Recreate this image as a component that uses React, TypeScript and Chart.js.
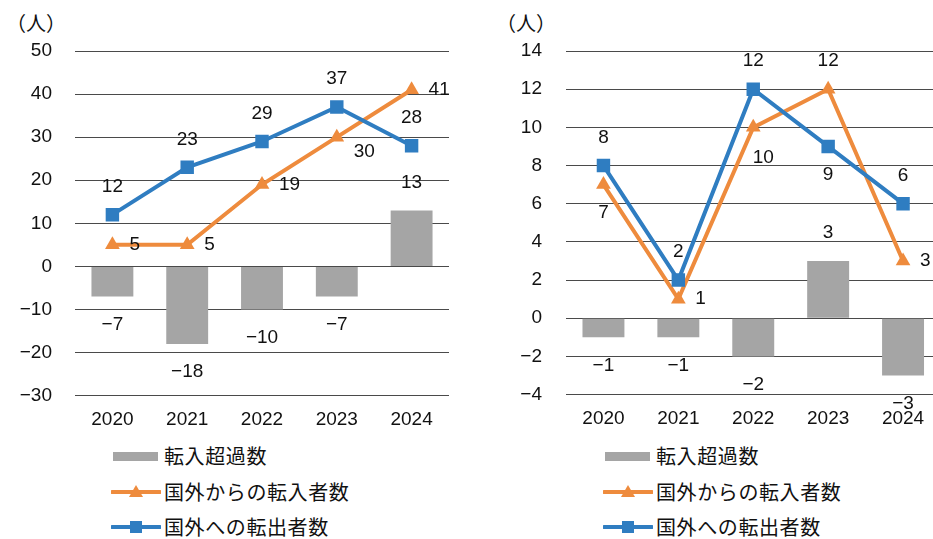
import React, { useEffect, useRef } from 'react';
import { Chart, registerables } from 'chart.js';
Chart.register(...registerables);

// ---- data ----
const years = ['2020', '2021', '2022', '2023', '2024'];
const seriesNames = ['転入超過数', '国外からの転入者数', '国外への転出者数'];

const leftNet = [-7, -18, -10, -7, 13];
const leftIn = [5, 5, 19, 30, 41];
const leftOut = [12, 23, 29, 37, 28];
const leftTicks = { min: -30, max: 50, step: 10 };

const rightNet = [-1, -1, -2, 3, -3];
const rightIn = [7, 1, 10, 12, 3];
const rightOut = [8, 2, 12, 9, 6];
const rightTicks = { min: -4, max: 14, step: 2 };

const unitLabel = '（人）';

// ---- styles ----
const GREY = '#a5a5a5';
const ORANGE = '#ee8b3d';
const BLUE = '#2f7dc1';
const GRID = '#4a4a4a';
const NUM_FONT = '"Liberation Sans", "Noto Sans CJK JP", sans-serif';
const JP_FONT = '"Noto Sans CJK JP", sans-serif';

const fmt = (v: number) => (v < 0 ? '\u2212' + Math.abs(v) : String(v));

const OFFS: Record<string, [number, number, CanvasTextAlign]> = {
  t: [0, -28, 'center'],
  b: [0, 28, 'center'],
  bR: [10, 30, 'center'],
  r: [17, 0, 'left'],
  rb: [17, 15, 'left'],
};

const labelPlugin = {
  id: 'valLabels',
  afterDatasetsDraw(chart: any) {
    const ctx = chart.ctx;
    ctx.save();
    ctx.font = `19px ${NUM_FONT}`;
    ctx.fillStyle = '#111';
    ctx.textBaseline = 'middle';
    chart.data.datasets.forEach((ds: any, i: number) => {
      const meta = chart.getDatasetMeta(i);
      meta.data.forEach((el: any, j: number) => {
        const p = OFFS[ds.labelPos[j]];
        ctx.textAlign = p[2];
        ctx.fillText(fmt(ds.data[j]), el.x + p[0], el.y + p[1]);
      });
    });
    ctx.restore();
  },
};

type PanelProps = {
  net: number[];
  inn: number[];
  out: number[];
  ticks: { min: number; max: number; step: number };
  netPos: string[];
  inPos: string[];
  outPos: string[];
  width: number;
  axisW: number;
  tickPad: number;
  padRight: number;
};

function Panel(p: PanelProps) {
  const ref = useRef<HTMLCanvasElement>(null);
  useEffect(() => {
    const chart = new Chart(ref.current!, {
      type: 'bar',
      data: {
        labels: years,
        datasets: [
          {
            type: 'line',
            label: seriesNames[2],
            data: p.out,
            borderColor: BLUE,
            backgroundColor: BLUE,
            borderWidth: 4,
            pointStyle: 'rect',
            pointRadius: 9.5,
            pointBorderWidth: 0,
            order: 1,
            labelPos: p.outPos,
          } as any,
          {
            type: 'line',
            label: seriesNames[1],
            data: p.inn,
            borderColor: ORANGE,
            backgroundColor: ORANGE,
            borderWidth: 4,
            pointStyle: 'triangle',
            pointRadius: 8.5,
            pointBorderWidth: 0,
            order: 2,
            labelPos: p.inPos,
          } as any,
          {
            type: 'bar',
            label: seriesNames[0],
            data: p.net,
            backgroundColor: GREY,
            categoryPercentage: 1,
            barPercentage: 0.56,
            order: 3,
            labelPos: p.netPos,
          } as any,
        ],
      },
      options: {
        animation: false,
        responsive: false,
        devicePixelRatio: 1,
        layout: { padding: { top: 51, left: 0, right: p.padRight, bottom: 0 } },
        plugins: { legend: { display: false }, tooltip: { enabled: false } },
        scales: {
          x: {
            offset: true,
            grid: { display: false, drawTicks: false },
            border: { display: false },
            ticks: { padding: 13, color: '#111', font: { size: 19, family: NUM_FONT } },
            afterFit: (s: any) => {
              s.height = 34;
            },
          },
          y: {
            min: p.ticks.min,
            max: p.ticks.max,
            grid: { color: GRID, lineWidth: 1, drawTicks: false },
            border: { display: false },
            ticks: {
              stepSize: p.ticks.step,
              padding: p.tickPad,
              color: '#111',
              font: { size: 19, family: NUM_FONT },
              callback: (v: any) => fmt(Number(v)),
            },
            afterFit: (s: any) => {
              s.width = p.axisW;
            },
          },
        },
      } as any,
      plugins: [labelPlugin],
    });
    return () => chart.destroy();
  }, []);
  return <canvas ref={ref} width={p.width} height={430} style={{ display: 'block', width: p.width, height: 430 }} />;
}

function LegendMarker({ kind }: { kind: number }) {
  if (kind === 0) {
    return (
      <svg width={50} height={14} style={{ display: 'block' }}>
        <rect x={2} y={3} width={45} height={9} fill={GREY} />
      </svg>
    );
  }
  const c = kind === 1 ? ORANGE : BLUE;
  return (
    <svg width={50} height={16} style={{ display: 'block' }}>
      <line x1={1} y1={8} x2={49} y2={8} stroke={c} strokeWidth={4} strokeLinecap="round" />
      {kind === 1 ? (
        <polygon points="25,1 32,13 18,13" fill={c} />
      ) : (
        <rect x={19} y={2} width={12} height={12} fill={c} />
      )}
    </svg>
  );
}

function Legend({ left }: { left: number }) {
  const rowsY = [456, 492, 527];
  return (
    <>
      {seriesNames.map((n, i) => (
        <div
          key={n}
          style={{
            position: 'absolute',
            left,
            top: rowsY[i] - 12,
            height: 24,
            display: 'flex',
            alignItems: 'center',
            fontFamily: JP_FONT,
            fontSize: 20,
            letterSpacing: 0.6,
            color: '#111',
            whiteSpace: 'nowrap',
          }}
        >
          <LegendMarker kind={i} />
          <span style={{ marginLeft: 3, lineHeight: '24px' }}>{n}</span>
        </div>
      ))}
    </>
  );
}

export default function App() {
  return (
    <div
      style={{
        position: 'fixed',
        left: 0,
        top: 0,
        width: 933,
        height: 539,
        overflow: 'hidden',
        background: '#fff',
      }}
    >
      <div style={{ position: 'absolute', left: 6, top: 8, fontFamily: JP_FONT, fontSize: 20, color: '#111' }}>
        {unitLabel}
      </div>
      <div style={{ position: 'absolute', left: 496, top: 8, fontFamily: JP_FONT, fontSize: 20, color: '#111' }}>
        {unitLabel}
      </div>
      <div style={{ position: 'absolute', left: 0, top: 0 }}>
        <Panel
          net={leftNet}
          inn={leftIn}
          out={leftOut}
          ticks={leftTicks}
          netPos={['b', 'b', 'b', 'b', 't']}
          inPos={['r', 'r', 'r', 'rb', 'r']}
          outPos={['t', 't', 't', 't', 't']}
          width={460}
          axisW={75}
          tickPad={23}
          padRight={11}
        />
      </div>
      <div style={{ position: 'absolute', left: 470, top: 0 }}>
        <Panel
          net={rightNet}
          inn={rightIn}
          out={rightOut}
          ticks={rightTicks}
          netPos={['b', 'b', 'b', 't', 'b']}
          inPos={['b', 'r', 'bR', 't', 'r']}
          outPos={['t', 't', 't', 'b', 't']}
          width={480}
          axisW={96}
          tickPad={24}
          padRight={9}
        />
      </div>
      <Legend left={111} />
      <Legend left={603} />
    </div>
  );
}
